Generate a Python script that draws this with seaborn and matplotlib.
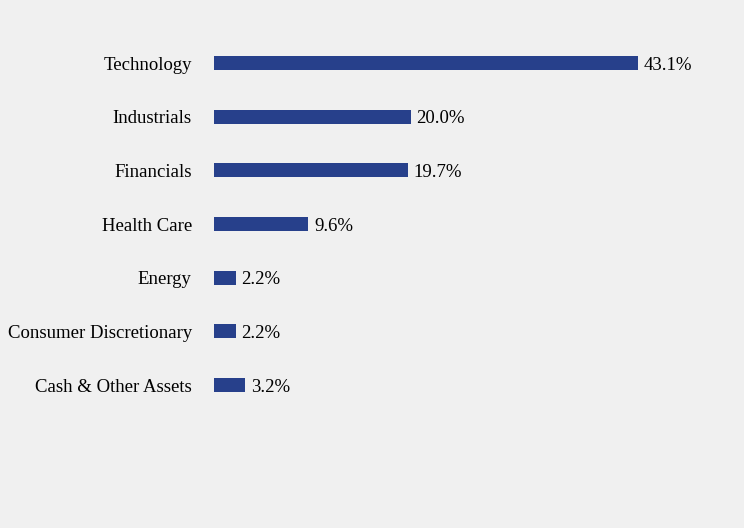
import pandas as pd
import seaborn as sns
import matplotlib.pyplot as plt

sectors = ['Technology', 'Industrials', 'Financials', 'Health Care', 'Energy',
           'Consumer Discretionary', 'Cash & Other Assets']
weights = [43.1, 20.0, 19.7, 9.6, 2.2, 2.2, 3.2]
labels = ['43.1%', '20.0%', '19.7%', '9.6%', '2.2%', '2.2%', '3.2%']

BG = '#f0f0f0'
BAR = '#27408b'

df = pd.DataFrame({'sector': sectors, 'weight': weights})

sns.set_style('white')
plt.rcParams['font.family'] = ['Liberation Serif', 'DejaVu Serif']
plt.rcParams['text.color'] = 'black'
plt.rcParams['ytick.color'] = 'black'

fig = plt.figure(figsize=(7.44, 5.28), dpi=100, facecolor=BG)
ax = fig.add_axes([0.2876, 0.22, 0.672, 0.7114], facecolor=BG)

sns.barplot(data=df, x='weight', y='sector', orient='h', color=BAR,
            width=0.26, saturation=1, linewidth=0, ax=ax)

texts = ax.bar_label(ax.containers[0], labels=labels, padding=4, fontsize=13.5,
                     color='black')
for t in texts:
    t.set_va('center_baseline')

ax.set_xlim(0, 50.8)
ax.set_ylim(6.5, -0.5)
ax.set_xlabel('')
ax.set_ylabel('')
ax.set_xticks([])
ax.tick_params(axis='y', length=0, pad=16, labelsize=13.5, labelcolor='black')
for s in ax.spines.values():
    s.set_visible(False)

fig.savefig('out.png', dpi=100, facecolor=BG)
